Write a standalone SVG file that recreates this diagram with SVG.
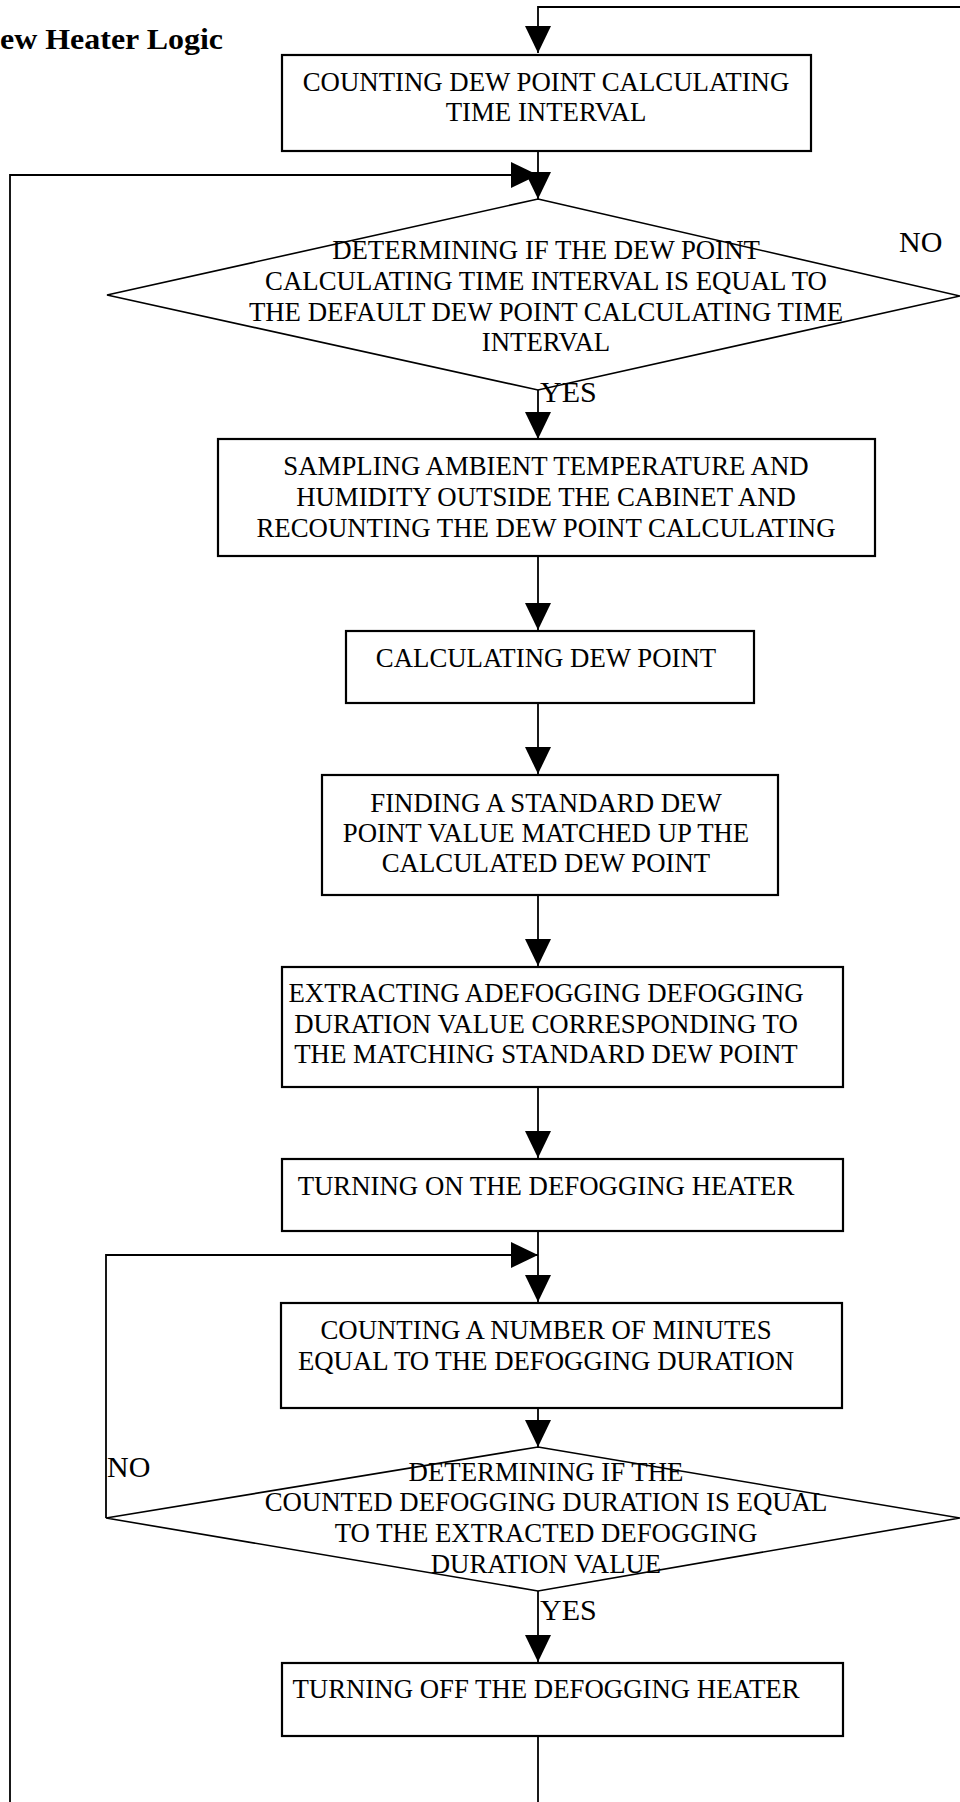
<svg xmlns="http://www.w3.org/2000/svg" width="960" height="1802" viewBox="0 0 960 1802">
<defs>
<marker id="ah" markerUnits="userSpaceOnUse" markerWidth="28" markerHeight="26" refX="27" refY="13" orient="auto"><path d="M0,0 L27,13 L0,26 z" fill="#000"/></marker>
<style>
.box{fill:#fff;stroke:#000;stroke-width:2.2}
.dia{fill:#fff;stroke:#000;stroke-width:1.6}
.t{font-family:"Liberation Serif","Times New Roman",serif;font-size:26.8px;fill:#000;text-anchor:middle}
.lbl{font-family:"Liberation Serif","Times New Roman",serif;font-size:30px;fill:#000}
.title{font-family:"Liberation Serif","Times New Roman",serif;font-size:30px;font-weight:bold;fill:#000}
.c{fill:none;stroke:#000;stroke-width:1.8}
</style>
</defs>
<rect width="960" height="1802" fill="#fff"/>
<text class="title" x="0" y="49" textLength="223" lengthAdjust="spacingAndGlyphs">ew Heater Logic</text>

<g id="n1">
<rect class="box" x="282" y="55" width="529" height="96"/>
<text class="t" x="546" y="91">COUNTING DEW POINT CALCULATING</text>
<text class="t" x="546" y="121">TIME INTERVAL</text>
</g>
<g id="d1">
<polygon class="dia" points="538,199 960,296 538,390 107,295"/>
<text class="t" x="546" y="259">DETERMINING IF THE DEW POINT</text>
<text class="t" x="546" y="290">CALCULATING TIME INTERVAL IS EQUAL TO</text>
<text class="t" x="546" y="321">THE DEFAULT DEW POINT CALCULATING TIME</text>
<text class="t" x="546" y="351">INTERVAL</text>
</g>
<g id="n2">
<rect class="box" x="218" y="439" width="657" height="117"/>
<text class="t" x="546" y="475">SAMPLING AMBIENT TEMPERATURE AND</text>
<text class="t" x="546" y="506">HUMIDITY OUTSIDE THE CABINET AND</text>
<text class="t" x="546" y="537">RECOUNTING THE DEW POINT CALCULATING</text>
</g>
<g id="n3">
<rect class="box" x="346" y="631" width="408" height="72"/>
<text class="t" x="546" y="667">CALCULATING DEW POINT</text>
</g>
<g id="n4">
<rect class="box" x="322" y="775" width="456" height="120"/>
<text class="t" x="546" y="812">FINDING A STANDARD DEW</text>
<text class="t" x="546" y="842">POINT VALUE MATCHED UP THE</text>
<text class="t" x="546" y="872">CALCULATED DEW POINT</text>
</g>
<g id="n5">
<rect class="box" x="282" y="967" width="561" height="120"/>
<text class="t" x="546" y="1002">EXTRACTING ADEFOGGING DEFOGGING</text>
<text class="t" x="546" y="1033">DURATION VALUE CORRESPONDING TO</text>
<text class="t" x="546" y="1063">THE MATCHING STANDARD DEW POINT</text>
</g>
<g id="n6">
<rect class="box" x="282" y="1159" width="561" height="72"/>
<text class="t" x="546" y="1195">TURNING ON THE DEFOGGING HEATER</text>
</g>
<g id="n7">
<rect class="box" x="281" y="1303" width="561" height="105"/>
<text class="t" x="546" y="1339">COUNTING A NUMBER OF MINUTES</text>
<text class="t" x="546" y="1370">EQUAL TO THE DEFOGGING DURATION</text>
</g>
<g id="d2">
<polygon class="dia" points="538,1447 960,1518 538,1591 106,1518"/>
<text class="t" x="546" y="1481">DETERMINING IF THE</text>
<text class="t" x="546" y="1511">COUNTED DEFOGGING DURATION IS EQUAL</text>
<text class="t" x="546" y="1542">TO THE EXTRACTED DEFOGGING</text>
<text class="t" x="546" y="1573">DURATION VALUE</text>
</g>
<g id="n8">
<rect class="box" x="282" y="1663" width="561" height="73"/>
<text class="t" x="546" y="1698">TURNING OFF THE DEFOGGING HEATER</text>
</g>

<g id="connectors">
<path class="c" d="M960,7 H538 V53" marker-end="url(#ah)"/>
<path class="c" d="M538,151 V199" marker-end="url(#ah)"/>
<path class="c" d="M10,1802 V175 H538" marker-end="url(#ah)"/>
<path class="c" d="M538,390 V439" marker-end="url(#ah)"/>
<path class="c" d="M538,557 V630" marker-end="url(#ah)"/>
<path class="c" d="M538,703 V774" marker-end="url(#ah)"/>
<path class="c" d="M538,895 V966" marker-end="url(#ah)"/>
<path class="c" d="M538,1087 V1158" marker-end="url(#ah)"/>
<path class="c" d="M538,1231 V1302" marker-end="url(#ah)"/>
<path class="c" d="M106,1518 V1255 H538" marker-end="url(#ah)"/>
<path class="c" d="M538,1408 V1447" marker-end="url(#ah)"/>
<path class="c" d="M538,1591 V1662" marker-end="url(#ah)"/>
<path class="c" d="M538,1736 V1802"/>
</g>
<g id="labels">
<text class="lbl" x="899" y="252">NO</text>
<text class="lbl" x="540" y="402">YES</text>
<text class="lbl" x="107" y="1477">NO</text>
<text class="lbl" x="540" y="1620">YES</text>
</g>
</svg>
